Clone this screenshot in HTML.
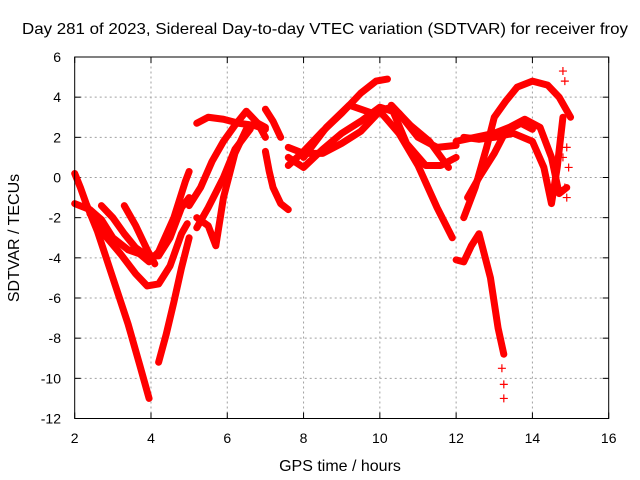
<!DOCTYPE html>
<html><head><meta charset="utf-8"><style>
body{margin:0;background:#fff;}
svg{display:block;font-family:"Liberation Sans",sans-serif;}
</style></head><body>
<svg id="chart" width="640" height="480" viewBox="0 0 640 480">
<rect width="640" height="480" fill="#fff"/>
<text x="325" y="34" font-size="16" text-anchor="middle" textLength="606" lengthAdjust="spacingAndGlyphs">Day 281 of 2023, Sidereal Day-to-day VTEC variation (SDTVAR) for receiver froy</text>
<text x="0" y="0" transform="translate(19,238) rotate(-90)" font-size="16" text-anchor="middle">SDTVAR / TECUs</text>
<text x="340" y="471" font-size="16" text-anchor="middle">GPS time / hours</text>
<g id="grid"></g>
<g id="ticks"></g>
<g id="series"></g>
<rect x="74.7" y="57" width="534" height="361.5" fill="none" stroke="#000" stroke-width="1"/>
</svg>
<script>
const xTicks=[2,4,6,8,10,12,14,16];
const yTicks=[6,4,2,0,-2,-4,-6,-8,-10,-12];
const tA_x=[2.0,2.15,2.3,2.6,3.0,3.4,3.7,3.95];
const tA_y=[0.2,-0.5,-1.3,-2.7,-5.0,-7.3,-9.3,-11.0];
const tB_x=[2.0,2.4,2.7,3.0,3.4,3.7,3.95,4.2,4.6,4.9,5.0];
const tB_y=[-1.3,-1.6,-2.1,-3.0,-3.6,-3.8,-4.2,-3.7,-2.0,-0.2,0.3];
const tC_x=[2.4,2.8,3.2,3.6,3.9,4.2,4.5,4.8,4.95];
const tC_y=[-1.8,-2.9,-3.8,-4.8,-5.4,-5.3,-4.4,-2.8,-2.3];
const tD_x=[2.7,3.0,3.3,3.6,3.9,4.2,4.5,4.8,5.0];
const tD_y=[-1.4,-2.0,-2.8,-3.5,-3.9,-3.9,-3.0,-1.5,-1.0];
const tD2_x=[3.3,3.6,3.9,4.1];
const tD2_y=[-1.4,-2.4,-3.6,-4.3];
const tE_x=[4.2,4.4,4.6,4.8,5.0];
const tE_y=[-9.2,-7.8,-6.2,-4.5,-3.0];
const tF_x=[5.0,5.3,5.6,5.9,6.2,6.5,6.8,7.0];
const tF_y=[-1.4,-0.5,0.8,1.8,2.6,3.3,2.7,2.0];
const tG_x=[5.2,5.5,5.9,6.3,6.7,7.0];
const tG_y=[2.7,3.0,2.9,2.7,2.6,2.4];
const tH_x=[5.2,5.5,5.7,5.9,6.2,6.5,6.8,7.0];
const tH_y=[-2.0,-2.4,-3.4,-1.0,1.2,2.4,2.7,2.5];
const tH2_x=[5.2,5.5,5.9,6.2,6.6];
const tH2_y=[-2.5,-1.5,0.0,1.4,2.4];
const tI_x=[7.0,7.2,7.4];
const tI_y=[3.4,2.8,2.0];
const tI2_x=[7.0,7.1,7.2,7.4,7.6];
const tI2_y=[1.3,0.3,-0.5,-1.3,-1.6];
const tJ_x=[7.6,8.0,8.5,9.0,9.5,10.0,10.5,11.0,11.5,12.0];
const tJ_y=[1.0,0.5,1.4,2.2,2.8,3.5,3.2,2.0,1.5,1.6];
const tK_x=[7.6,8.0,8.5,9.0,9.5,9.9,10.2];
const tK_y=[0.6,1.3,2.3,3.2,4.2,4.8,4.9];
const tL_x=[7.6,8.0,8.5,9.0,9.5,10.0,10.5,11.0,11.5,11.9];
const tL_y=[1.5,1.2,1.2,1.7,2.3,3.3,2.2,0.6,-1.5,-3.0];
const tM_x=[8.0,8.6,9.2,9.8,10.3,10.7,11.2,11.6,12.0];
const tM_y=[1.0,2.5,3.6,3.2,3.5,1.7,0.6,0.6,1.0];
const tN_x=[10.3,10.8,11.3,11.8];
const tN_y=[3.6,2.6,1.8,0.5];
const tS_x=[12.0,12.2,12.4,12.6,12.9,13.1,13.25];
const tS_y=[-4.1,-4.2,-3.4,-2.8,-5.0,-7.5,-8.8];
const tO_x=[12.2,12.5,12.8,13.0,13.3,13.6,14.0,14.4,14.7,15.0];
const tO_y=[-2.0,-0.5,1.5,3.0,3.8,4.5,4.8,4.6,4.0,3.0];
const tP_x=[12.0,12.5,13.0,13.4,13.8,14.2,14.5,14.7,14.9];
const tP_y=[1.8,2.0,2.2,2.5,2.9,2.5,1.0,-0.8,-0.5];
const tQ_x=[12.2,12.6,13.0,13.5,14.0,14.3,14.5,14.65,14.8];
const tQ_y=[2.0,1.9,2.0,2.2,1.8,0.5,-1.3,0.5,3.0];
const tR_x=[12.3,12.6,13.0,13.3,13.7,14.0];
const tR_y=[-1.0,0.0,1.2,2.3,2.7,2.4];
const tracksX=[tA_x,tB_x,tC_x,tD_x,tD2_x,tE_x,tF_x,tG_x,tH_x,tH2_x,tI_x,tI2_x,tJ_x,tK_x,tL_x,tM_x,tN_x,tS_x,tO_x,tP_x,tQ_x,tR_x];
const tracksY=[tA_y,tB_y,tC_y,tD_y,tD2_y,tE_y,tF_y,tG_y,tH_y,tH2_y,tI_y,tI2_y,tJ_y,tK_y,tL_y,tM_y,tN_y,tS_y,tO_y,tP_y,tQ_y,tR_y];
const scatterX=[13.2,13.25,13.25,14.8,14.85,14.9,14.95,14.8,14.85,14.9];
const scatterY=[-9.5,-10.3,-11.0,5.3,4.8,1.5,0.5,1.0,-0.5,-1.0];

const X0=74.7,X1=608.7,Y0=418.5,Y1=57;
const sx=v=>X0+(v-2)/(16-2)*(X1-X0);
const sy=v=>Y0+(v+12)/(6+12)*(Y1-Y0);
const NS='http://www.w3.org/2000/svg';
const mk=(t,a,p)=>{const e=document.createElementNS(NS,t);for(const k in a)e.setAttribute(k,a[k]);p.appendChild(e);return e;};
const grid=document.getElementById('grid'),ticks=document.getElementById('ticks'),series=document.getElementById('series');
xTicks.forEach(v=>{
  const x=sx(v);
  if(v>2&&v<16){const g=mk('line',{x1:x,x2:x,y1:Y0,y2:Y1,stroke:'#a0a0a0','stroke-dasharray':'2,3'},grid);
  
  }
  mk('line',{x1:x,x2:x,y1:Y0,y2:Y0-6,stroke:'#000'},ticks);
  mk('line',{x1:x,x2:x,y1:Y1,y2:Y1+6,stroke:'#000'},ticks);
  const t=mk('text',{x:x,y:443,'font-size':14,'text-anchor':'middle'},ticks);t.textContent=v;
  
  
});
yTicks.forEach(v=>{
  const y=sy(v);
  if(v<6&&v>-12){const g=mk('line',{x1:X0,x2:X1,y1:y,y2:y,stroke:'#a0a0a0','stroke-dasharray':'2,3'},grid);
  
  }
  mk('line',{x1:X0,x2:X0+6,y1:y,y2:y,stroke:'#000'},ticks);
  mk('line',{x1:X1,x2:X1-6,y1:y,y2:y,stroke:'#000'},ticks);
  const t=mk('text',{x:61,y:y+5,'font-size':14,'text-anchor':'end'},ticks);t.textContent=v;
  
  
});
tracksX.forEach((xs,i)=>{
  const ys=tracksY[i];
  const pts=xs.map((x,j)=>sx(x)+','+sy(ys[j])).join(' ');
  const p=mk('polyline',{points:pts,fill:'none',stroke:'#ff0000','stroke-width':7,'stroke-linejoin':'round','stroke-linecap':'round'},series);
  
  
});
scatterX.forEach((x,i)=>{
  const cx=sx(x),cy=sy(scatterY[i]);
  const p=mk('path',{d:`M${cx-4},${cy}H${cx+4}M${cx},${cy-4}V${cy+4}`,stroke:'#ff0000','stroke-width':1.2},series);
  
  
});
</script>
</body></html>
